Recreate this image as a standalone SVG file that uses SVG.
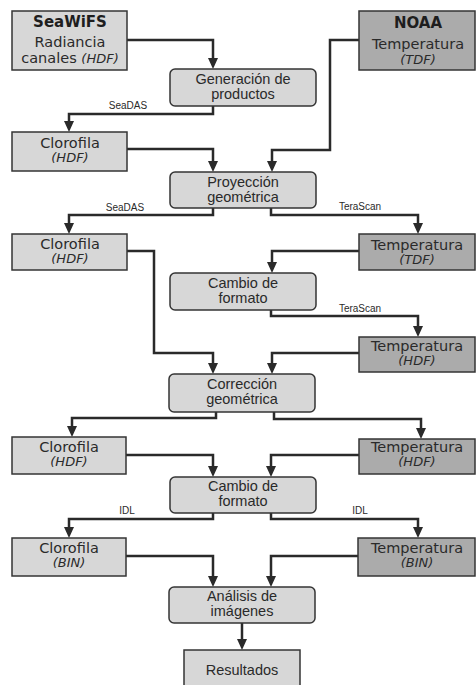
<svg xmlns="http://www.w3.org/2000/svg" width="476" height="685" viewBox="0 0 476 685">
<defs>
<marker id="arr" viewBox="0 0 11 10" refX="7" refY="5" markerWidth="11" markerHeight="10" markerUnits="userSpaceOnUse" orient="auto">
<path d="M0,0 L11,5 L0,10 z" fill="#2a2a2a"/>
</marker>
<style>
.bg{fill:#ffffff}
.lt{fill:#d7d7d7;stroke:#353535;stroke-width:1.5}
.dk{fill:#ababab;stroke:#353535;stroke-width:1.5}
.c{fill:none;stroke:#2a2a2a;stroke-width:2.5;marker-end:url(#arr)}
.v{font-family:"DejaVu Sans",Verdana,sans-serif;font-size:14.5px;fill:#2a2a2a;text-anchor:middle}
.b{font-family:"DejaVu Sans",Verdana,sans-serif;font-size:15px;font-weight:bold;fill:#1e1e1e;text-anchor:middle}
.i{font-family:"DejaVu Sans",Verdana,sans-serif;font-size:13px;font-style:italic;fill:#2a2a2a;text-anchor:middle}
.i2{font-size:13px;font-style:italic}
.a{font-family:"Liberation Sans",Arial,sans-serif;font-size:14.5px;fill:#2a2a2a;text-anchor:middle}
.l{font-family:"Liberation Sans",Arial,sans-serif;font-size:10px;fill:#2a2a2a;text-anchor:middle}
</style>
</defs>
<rect class="bg" x="0" y="0" width="476" height="685"/>
<g id="connectors">
<path class="c" d="M127,40 H213 V65"/>
<path class="c" d="M359,40 H330 V150 H272 V168"/>
<path class="c" d="M213,106 V114 H69 V128"/>
<path class="c" d="M127,149 H213 V168"/>
<path class="c" d="M213,208 V215 H69 V230"/>
<path class="c" d="M271,208 V215 H418 V230"/>
<path class="c" d="M359,251 H272 V269"/>
<path class="c" d="M127,251 H154 V353 H213 V370"/>
<path class="c" d="M271,310 V316 H418 V333"/>
<path class="c" d="M359,353 H272 V370"/>
<path class="c" d="M216,412 V418 H72 V433"/>
<path class="c" d="M274,412 V419 H421 V435"/>
<path class="c" d="M126,455 H213 V473"/>
<path class="c" d="M359,455 H271 V473"/>
<path class="c" d="M213,513 V519 H69 V534"/>
<path class="c" d="M271,513 V519 H418 V534"/>
<path class="c" d="M126,556 H213 V583"/>
<path class="c" d="M358,556 H271 V583"/>
<path class="c" d="M242,623 V646"/>
<text class="l" x="128" y="109">SeaDAS</text>
<text class="l" x="125" y="211">SeaDAS</text>
<text class="l" x="360" y="210">TeraScan</text>
<text class="l" x="360" y="312">TeraScan</text>
<text class="l" x="127" y="514">IDL</text>
<text class="l" x="360" y="514">IDL</text>
</g>
<g id="seawifs">
<rect class="lt" x="12" y="11" width="115" height="59"/>
<text class="b" x="70" y="27">SeaWiFS</text>
<text class="v" x="70" y="47">Radiancia</text>
<text class="v" x="70" y="63">canales <tspan class="i2">(HDF)</tspan></text>
</g>
<g id="noaa">
<rect class="dk" x="359" y="11" width="116" height="59"/>
<text class="b" x="418" y="28">NOAA</text>
<text class="v" x="418" y="49">Temperatura</text>
<text class="i" x="418" y="64">(TDF)</text>
</g>
<g id="generacion">
<rect class="lt" x="170" y="69" width="146" height="37" rx="5"/>
<text class="a" x="243" y="84">Generación de</text>
<text class="a" x="243" y="99">productos</text>
</g>
<g id="clorofila1">
<rect class="lt" x="12" y="132" width="115" height="39"/>
<text class="v" x="70" y="148">Clorofila</text>
<text class="i" x="70" y="162">(HDF)</text>
</g>
<g id="proyeccion">
<rect class="lt" x="170" y="172" width="146" height="36" rx="5"/>
<text class="a" x="243" y="187">Proyección</text>
<text class="a" x="243" y="202">geométrica</text>
</g>
<g id="clorofila2">
<rect class="lt" x="12" y="234" width="115" height="36"/>
<text class="v" x="70" y="249">Clorofila</text>
<text class="i" x="70" y="263">(HDF)</text>
</g>
<g id="temperatura1">
<rect class="dk" x="359" y="234" width="116" height="36"/>
<text class="v" x="417" y="250">Temperatura</text>
<text class="i" x="417" y="264">(TDF)</text>
</g>
<g id="cambio1">
<rect class="lt" x="170" y="273" width="146" height="37" rx="5"/>
<text class="a" x="243" y="288">Cambio de</text>
<text class="a" x="243" y="303">formato</text>
</g>
<g id="temperatura2">
<rect class="dk" x="359" y="337" width="116" height="35"/>
<text class="v" x="417" y="351">Temperatura</text>
<text class="i" x="417" y="365">(HDF)</text>
</g>
<g id="correccion">
<rect class="lt" x="169" y="374" width="146" height="38" rx="5"/>
<text class="a" x="242" y="389">Corrección</text>
<text class="a" x="242" y="404">geométrica</text>
</g>
<g id="clorofila3">
<rect class="lt" x="12" y="437" width="114" height="37"/>
<text class="v" x="69" y="452">Clorofila</text>
<text class="i" x="69" y="466">(HDF)</text>
</g>
<g id="temperatura3">
<rect class="dk" x="359" y="439" width="116" height="35"/>
<text class="v" x="417" y="452">Temperatura</text>
<text class="i" x="417" y="466">(HDF)</text>
</g>
<g id="cambio2">
<rect class="lt" x="170" y="477" width="146" height="36" rx="5"/>
<text class="a" x="243" y="491">Cambio de</text>
<text class="a" x="243" y="506">formato</text>
</g>
<g id="clorofila4">
<rect class="lt" x="12" y="538" width="114" height="38"/>
<text class="v" x="69" y="553">Clorofila</text>
<text class="i" x="69" y="567">(BIN)</text>
</g>
<g id="temperatura4">
<rect class="dk" x="358" y="538" width="117" height="38"/>
<text class="v" x="417" y="553">Temperatura</text>
<text class="i" x="417" y="567">(BIN)</text>
</g>
<g id="analisis">
<rect class="lt" x="169" y="587" width="146" height="36" rx="5"/>
<text class="a" x="242" y="601">Análisis de</text>
<text class="a" x="242" y="616">imágenes</text>
</g>
<g id="resultados">
<rect class="lt" x="184" y="650" width="116" height="42"/>
<text class="a" x="242" y="675">Resultados</text>
</g>
</svg>
